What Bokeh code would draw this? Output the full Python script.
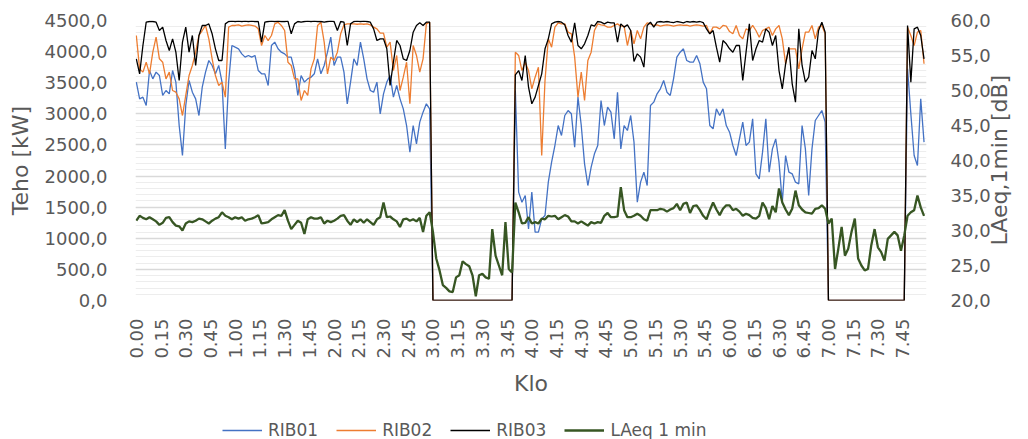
import math
import numpy as np
from bokeh.plotting import figure
from bokeh.layouts import column
from bokeh.models import (Range1d, LinearAxis, SingleIntervalTicker, FixedTicker,
                          CustomJSTickFormatter, Legend, LegendItem)
from bokeh.embed import file_html
from bokeh.resources import INLINE

# ---- data (2-minute samples, minutes after midnight) ----
minutes = list(range(0, 480, 2))
tick_minutes = list(range(0, 466, 15))
tick_labels = ["0.00", "0.15", "0.30", "0.45", "1.00", "1.15", "1.30", "1.45",
               "2.00", "2.15", "2.30", "2.45", "3.00", "3.15", "3.30", "3.45",
               "4.00", "4.15", "4.30", "4.45", "5.00", "5.15", "5.30", "5.45",
               "6.00", "6.15", "6.30", "6.45", "7.00", "7.15", "7.30", "7.45"]
series_names = ["RIB01", "RIB02", "RIB03", "LAeq 1 min"]
right_title = "LAeq,1min [dB]"

rib01 = [3509, 3241, 3268, 3134, 3696, 3562, 3670, 3616, 3295, 3375,
         3321, 3696, 3509, 2812, 2330, 3134, 3536, 3348, 3241, 2973,
         3428, 3670, 3857, 3777, 3643, 3777, 3509, 2437, 3509, 4098,
         4071, 4045, 3964, 3911, 3938, 3911, 3938, 3696, 3643, 3643,
         3455, 4098, 4152, 4045, 3991, 3964, 3911, 3911,
         3696, 3295, 3616, 3509, 3562, 3589, 3643, 3884, 3643, 3777, 3991, 4232,
         3777, 3911, 3911, 3670, 3161, 3509, 3884, 3777, 4152, 3884,
         3562, 3375, 3348, 3509, 2999, 3321, 3509, 3616, 3268, 3455,
         3241, 3080, 2812, 2384, 2812, 2518, 2866, 3027, 3161, 3080,
         0, 0, 0, 0, 0, 0, 0, 0, 0, 0, 0, 0, 0, 0, 0, 0, 0, 0, 0, 0, 0, 0, 0, 0, 0,
         3375, 1741, 1580, 1687, 1152,
         1741, 1098, 1098, 1312, 1366, 1902, 2223, 2491, 2812, 2652,
         2973, 3053, 3000, 2464, 3268, 2812, 2196, 1848, 2143, 2357,
         2491, 3214, 2812, 3107,
         3027, 2598, 3348, 2437, 2812, 2732,
         2973, 2545, 1580, 1902, 2062, 1848, 3134, 3188, 3321, 3402,
         3536, 3348, 3295, 3562, 3911, 3991, 4045, 3857, 3830, 3830,
         3938, 3804, 3509, 3402, 2812, 2759, 3080, 2973, 3080, 2812,
         2705, 2491, 2330, 2598, 2866, 2491, 2545, 2920, 2036, 1955,
         2384, 2920,
         2062, 2437, 2598, 2223, 1580, 2330, 2062, 2036,
         1902, 1875, 2812, 2437, 1687, 2437, 2893, 2973, 3053, 2866,
         0, 0, 0, 0, 0, 0, 0, 0, 0, 0, 0, 0, 0, 0, 0, 0, 0, 0, 0, 0, 0, 0, 0, 0,
         3723, 3000, 2330, 2170, 3241, 2545]

rib02 = [4259, 3723, 3670, 3830, 3643, 3991, 4232, 3884, 3830, 3562,
         3670, 3375, 3348, 3241, 2973, 3295, 3616, 3777, 3991, 4259,
         4339, 4420, 4205, 3884, 3616, 3455, 3509, 3268, 4393, 4420,
         4420, 4430, 4410, 4420, 4430, 4420, 4410, 4366, 4098, 4259,
         4178, 4259, 4446, 4473, 4420, 4339, 3830, 3777,
         3562, 3562, 3214, 3375, 3295, 3723, 3884, 4420, 4473, 4152, 3643, 3911,
         3857, 3991, 4286, 4430, 4446, 4446, 4446, 4440, 4446, 4440,
         4446, 4430, 4393, 4366, 4296, 4296, 4071, 4152, 3696, 3938,
         3375, 3589, 3830, 3161, 4098, 3938, 3670, 3884, 4446, 4473,
         0, 0, 0, 0, 0, 0, 0, 0, 0, 0, 0, 0, 0, 0, 0, 0, 0, 0, 0, 0, 0, 0, 0, 0, 0,
         3991, 3938, 3696, 3830, 3696,
         3402, 3589, 3750, 2330, 3536, 4205, 4071, 4393, 4462, 4446,
         4446, 4312, 4286, 3911, 3268, 3670, 3214, 3857, 3991, 4339,
         4446, 4430, 4420, 4393,
         4393, 4420, 4446, 4409, 4409, 4098,
         4339, 4125, 4339, 4205, 4393, 4462, 4446, 4420, 4430, 4410,
         4420, 4430, 4420, 4410, 4420, 4430, 4420, 4425, 4410, 4420,
         4430, 4420, 4410, 4420, 4286, 4393, 4393, 4366, 4420, 4409,
         4322, 4286, 4420, 4259, 4205, 4366, 4339, 4420, 4339, 4232,
         4339, 4366,
         4393, 4259, 4366, 4420, 4205, 3804, 4045, 4045,
         4045, 3723, 4045, 4312, 4312, 4420, 4205, 4393, 4420, 4286,
         0, 0, 0, 0, 0, 0, 0, 0, 0, 0, 0, 0, 0, 0, 0, 0, 0, 0, 0, 0, 0, 0, 0, 0,
         4393, 4259, 4098, 4312, 4339, 3804]

rib03 = [3884, 3643, 4098, 4473, 4484, 4484, 4473, 4339, 4393, 4179,
         4018, 4205, 3991, 3536, 4152, 4393, 3991, 4259, 3777, 4259,
         4420, 4420, 4446, 4286, 4045, 3857, 3857, 4446, 4484, 4490,
         4484, 4490, 4484, 4490, 4484, 4490, 4484, 4484, 4152, 4473,
         4484, 4490, 4484, 4490, 4484, 4484, 4490, 4286,
         4446, 4484, 4473, 4484, 4490, 4484, 4490, 4484, 4484, 4473, 4484, 4490,
         4484, 4339, 4484, 4473, 4098, 4446, 4484, 4490, 4484, 4490,
         4484, 4473, 4366, 4178, 4205, 4205, 4045, 3455, 3830, 4179,
         4098, 3884, 3857, 4018, 4312, 4420, 4462, 4420, 4473, 4473,
         0, 0, 0, 0, 0, 0, 0, 0, 0, 0, 0, 0, 0, 0, 0, 0, 0, 0, 0, 0, 0, 0, 0, 0, 0,
         3627, 3696, 3536, 3938, 3428,
         3161, 3268, 3455, 3643, 4045, 4205, 4446, 4473, 4484, 4473,
         4430, 4259, 4152, 4462, 4098, 4045, 4125, 4259, 4430, 4410,
         4484, 4473, 4446, 4473,
         4462, 4462, 4152, 4446, 4393, 4430,
         4339, 3841, 3964, 3911, 3750, 4420, 4473, 4393, 4473, 4484,
         4473, 4484, 4473, 4466, 4484, 4473, 4462, 4484, 4473, 4484,
         4473, 4484, 4466, 4366, 4286, 4339, 4071, 3830, 4178, 4125,
         4045, 3991, 4098, 4098, 3536, 3991, 4446, 3857, 4045, 4178,
         4152, 4366,
         4312, 4098, 4259, 3696, 3402, 3804, 4071, 3482,
         3187, 4366, 3777, 3509, 3589, 4018, 3884, 4339, 4473, 4312,
         0, 0, 0, 0, 0, 0, 0, 0, 0, 0, 0, 0, 0, 0, 0, 0, 0, 0, 0, 0, 0, 0, 0, 0,
         4420, 3509, 4366, 4393, 4259, 3884]

laeq = [31.4, 32.1, 31.8, 31.6, 31.9, 31.6, 31.3, 30.8, 31.1, 31.8,
        31.9, 31.2, 30.7, 30.6, 30.0, 31.0, 31.3, 31.2, 31.4, 31.7,
        31.6, 31.3, 31.0, 31.4, 31.7, 31.9, 32.6, 32.1, 31.9, 31.6,
        31.9, 31.7, 31.9, 31.4, 31.6, 31.7, 31.9, 32.2, 31.0, 31.1,
        31.2, 31.6, 31.9, 32.2, 32.1, 32.9, 31.4, 30.2,
        30.8, 31.4, 31.1, 29.5, 31.6, 31.9, 31.7, 31.7, 31.9, 31.0, 31.4, 31.2,
        31.4, 31.7, 32.1, 32.2, 31.4, 30.8, 31.6, 31.2, 31.6, 31.1,
        31.6, 31.2, 30.8, 31.6, 31.9, 34.0, 31.9, 32.0, 31.6, 31.3,
        30.5, 31.6, 31.7, 31.4, 31.6, 31.3, 31.8, 29.8, 32.1, 32.6,
        29.8, 26.0, 24.3, 22.2, 21.8, 21.3, 21.2, 23.3, 23.6, 25.6,
        25.2, 24.9, 23.6, 20.6, 23.6, 23.8, 23.3, 23.1, 30.2, 26.4,
        25.0, 23.6, 31.2, 24.5, 24.0, 34.0, 32.6, 31.0, 31.1, 31.9,
        31.0, 31.2, 31.0, 31.7, 31.6, 32.1, 32.0, 32.1, 31.6, 31.9,
        32.2, 32.0, 31.3, 31.3, 31.0, 31.3, 31.0, 30.7, 31.2, 31.0,
        31.2, 31.1, 32.1, 32.5, 31.9, 31.9, 32.0, 36.2, 32.9, 31.9,
        31.9, 32.1, 32.4, 32.1, 31.6, 31.4, 32.9, 32.9, 32.9, 33.1,
        33.0, 32.7, 33.0, 33.2, 33.8, 32.9, 33.8, 34.0, 32.5, 33.5,
        33.6, 32.9, 32.1, 31.6, 32.9, 34.0, 33.0, 32.2, 33.1, 33.6,
        33.6, 32.9, 33.1, 32.7, 32.1, 32.4, 32.2, 31.8, 31.7, 32.1,
        34.0, 33.2, 31.6, 33.5, 32.6, 36.0, 34.0, 33.0, 32.2, 33.1,
        35.7, 33.6, 33.0, 32.6, 32.5, 32.4, 33.1, 33.2, 33.6, 33.1,
        31.0, 31.7, 24.5, 27.4, 30.5, 26.4, 27.4, 29.8, 31.7, 26.0,
        25.0, 24.3, 24.5, 27.9, 30.2, 27.6, 26.9, 25.7, 28.8, 29.3,
        29.8, 29.3, 27.1, 29.3, 32.1, 32.6, 32.9, 35.0, 33.3, 32.1]

for s in (rib01, rib02, rib03, laeq):
    assert len(s) == len(minutes), len(s)

# ---- styling ----
FONT = "DejaVu Sans"
GRAY = "#595959"
COLORS = ["#4472C4", "#ED7D31", "#000000", "#375623"]
WIDTHS = [1.3, 1.3, 1.3, 2.3]

p = figure(width=1028, height=410, output_backend="svg", toolbar_location=None,
           x_range=Range1d(-0.5, 479.5), y_range=Range1d(0, 4500),
           min_border_left=135, min_border_right=102, min_border_top=20,
           min_border_bottom=110, outline_line_color=None,
           background_fill_color="white", border_fill_color="white")
p.extra_y_ranges = {"db": Range1d(20, 60)}

yt = SingleIntervalTicker(interval=500, num_minor_ticks=5)
ly = p.yaxis[0]
ly.ticker = yt
ly.formatter = CustomJSTickFormatter(code="return tick.toFixed(1).replace('.', ',');")
ly.axis_label = "Teho [kW]"
ly.major_label_standoff = 24
ly.axis_label_standoff = 9

ry = LinearAxis(y_range_name="db", ticker=SingleIntervalTicker(interval=5, num_minor_ticks=0),
                formatter=CustomJSTickFormatter(code="return tick.toFixed(1).replace('.', ',');"))
ry.major_label_standoff = 24
p.add_layout(ry, "right")

# right-hand title, reading bottom-to-top, drawn as the single label of an outer axis
title_anchor_db = 27.86   # where the text starts (its lower end)
ta = LinearAxis(y_range_name="db", ticker=FixedTicker(ticks=[title_anchor_db], minor_ticks=[]),
                formatter=CustomJSTickFormatter(args=dict(t=right_title), code="return t;"))
ta.major_label_orientation = math.pi / 2
ta.major_label_standoff = 6
p.add_layout(ta, "right")

xa = p.xaxis[0]
xa.ticker = FixedTicker(ticks=tick_minutes, minor_ticks=[])
xa.major_label_overrides = dict(zip(tick_minutes, tick_labels))
xa.major_label_orientation = math.pi / 2
xa.major_label_standoff = 18
xa.axis_label = "Klo"
xa.axis_label_standoff = 9

for ax in (ly, ry, xa, ta):
    ax.axis_line_color = None
    ax.major_tick_line_color = None
    ax.minor_tick_line_color = None
    ax.major_tick_out = 0
    ax.major_tick_in = 0
    ax.major_label_text_font = FONT
    ax.major_label_text_font_size = "18px"
    ax.major_label_text_color = GRAY
    ax.axis_label_text_font = FONT
    ax.axis_label_text_font_size = "22px"
    ax.axis_label_text_color = GRAY
    ax.axis_label_text_font_style = "normal"
ta.major_label_text_font_size = "22px"

p.xgrid.grid_line_color = None
p.ygrid.ticker = yt
p.ygrid.grid_line_color = "#D9D9D9"
p.ygrid.grid_line_width = 1.3
p.ygrid.minor_grid_line_color = "#EDEDED"
p.ygrid.minor_grid_line_width = 1

p.line(minutes, rib01, line_color=COLORS[0], line_width=WIDTHS[0])
p.line(minutes, rib02, line_color=COLORS[1], line_width=WIDTHS[1])
p.line(minutes, rib03, line_color=COLORS[2], line_width=WIDTHS[2])
p.line(minutes, laeq, line_color=COLORS[3], line_width=WIDTHS[3], y_range_name="db")

# ---- legend strip below the chart (frame is aligned with the chart frame) ----
lf = figure(width=1028, height=29, output_backend="svg", toolbar_location=None,
            x_range=Range1d(0, 1), y_range=Range1d(0, 1),
            x_axis_type=None, y_axis_type=None, min_border=0,
            outline_line_color=None, background_fill_color="white",
            border_fill_color="white")
blank = np.array([np.nan])
keys = [lf.line(blank, blank, line_color=c, line_width=w) for c, w in zip(COLORS, WIDTHS)]
legend = Legend(items=[LegendItem(label=n, renderers=[r]) for n, r in zip(series_names, keys)],
                orientation="horizontal", location=(87, -1),
                glyph_width=40, glyph_height=20, label_standoff=6, spacing=18,
                padding=0, margin=0, border_line_color=None,
                background_fill_alpha=0,
                label_text_font=FONT, label_text_font_size="17px",
                label_text_color=GRAY)
lf.add_layout(legend)

layout = column(p, lf, spacing=0)
open("out.html", "w").write(file_html(layout, INLINE))
